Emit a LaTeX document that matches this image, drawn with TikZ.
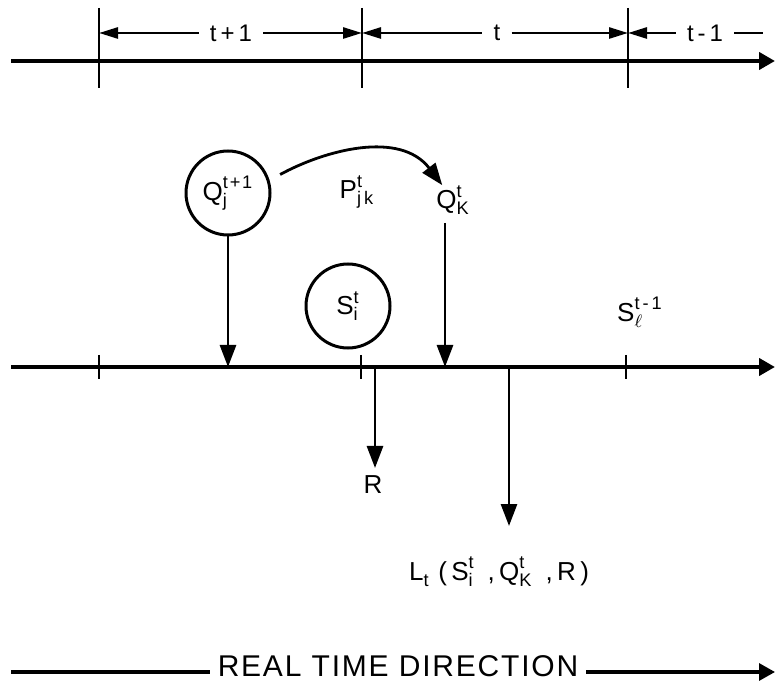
\documentclass[tikz,border=0pt]{standalone}
\usepackage{amsmath}
\usepackage{fontspec}
\setmainfont{Liberation Sans}
\usetikzlibrary{arrows.meta}
\newcommand{\sym}[3]{$\text{#1}^{\text{#2}}_{\text{#3}}$}
\tikzset{rt/.style={x=.5pt,y=-.5pt,line width=1.4pt,font=\fontsize{12}{14}\selectfont\addfontfeatures{LetterSpace=10}},
  sy/.style={font=\fontsize{13}{15}\selectfont\addfontfeatures{LetterSpace=10}},
  ax/.style={line width=2.3pt,-ah},
  dim/.style={line width=1.3pt},
  lab/.style={inner sep=5pt},
  ring/.style={circle,draw,line width=1.5pt,minimum size=42pt,inner sep=0pt},
  ah/.tip={Triangle[length=8pt,width=8.5pt]},
  dh/.tip={Triangle[length=9.5pt,width=5.5pt]},
  vh/.tip={Triangle[length=11pt,width=8pt]}}

\begin{document}
\begin{tikzpicture}[rt]
  \useasboundingbox (0,0) rectangle (775,683);
  % upper time scale with the stage widths
  \coordinate (u0) at (11,61);\coordinate (u1) at (775,61);
  \draw[ax] (u0)--(u1);
  \foreach \x/\n in {99/ua,362/ub,628/uc}{\draw (\x,8)--(\x,88);\coordinate (\n) at (\x,33);}
  \node[lab] (p1) at (231,33){t\,+\,1};
  \node[lab] (p0) at (497,33){t};
  \node[lab] (pm) at (705,33){t\,-\,1};
  \coordinate (ue) at (763,33);
  \draw[dim,dh-] (ua)--(p1);\draw[dim,-dh] (p1)--(ub);
  \draw[dim,dh-] (ub)--(p0);\draw[dim,-dh] (p0)--(uc);
  \draw[dim,dh-] (uc)--(pm);\draw[dim] (pm)--(ue);
  % lower axis
  \coordinate (m0) at (11,367);\coordinate (m1) at (775,367);
  \draw[ax] (m0)--(m1);
  \foreach \x in {99,361,626}\draw (\x,355)--(\x,379);
  \node[ring,sy] (qj) at (228,193){\sym{Q}{t+1}{j}};
  \draw[-vh] (qj)--(qj|-m0);
  \node[sy] (qk) at (453,200){\sym{Q}{t}{K}};
  \draw[-vh] ([xshift=-4pt]qk.south)--([xshift=-4pt]qk.south|-m0);
  \node[sy] (pjk) at (357,192){\sym{P}{t}{j\,k}};
  \draw[-vh,shorten <=6pt] (qj.17) .. controls (325,150) and (400,130) .. ([shift={(7pt,-4pt)}]qk.north west);
  \node[ring,sy] (si) at (348,306){\sym{S}{t}{i}};
  \node[sy] (sl) at (640,312){$\text{S}^{\text{t\,-\,1}}_{\ell}$};
  % outputs
  \node[sy] (r) at (373,485){R};
  \coordinate (r0) at (375,367);
  \draw[-vh] (r0)--(r0|-r.north);
  \coordinate (l0) at (509,367);\coordinate (l1) at (509,526);
  \draw[-vh] (l0)--(l1);
  \node[sy] (lt) at (499,572){\sym{L}{}{t}\,\,(\,\sym{S}{t}{i}\,\,\,,\,\sym{Q}{t}{K}\,\,\,,\,R\,)};
  % direction of real time
  \node[font=\fontsize{15}{18}\selectfont\addfontfeatures{LetterSpace=6}] (dir) at (398,666){REAL TIME\ DIRECTION};
  \coordinate (b0) at (11,672);\coordinate (b1) at (775,672);
  \draw[line width=1.6pt] (b0)--(b0-|dir.west);
  \draw[line width=1.6pt,-ah] (b1-|dir.east)--(b1);
\end{tikzpicture}
\end{document}
